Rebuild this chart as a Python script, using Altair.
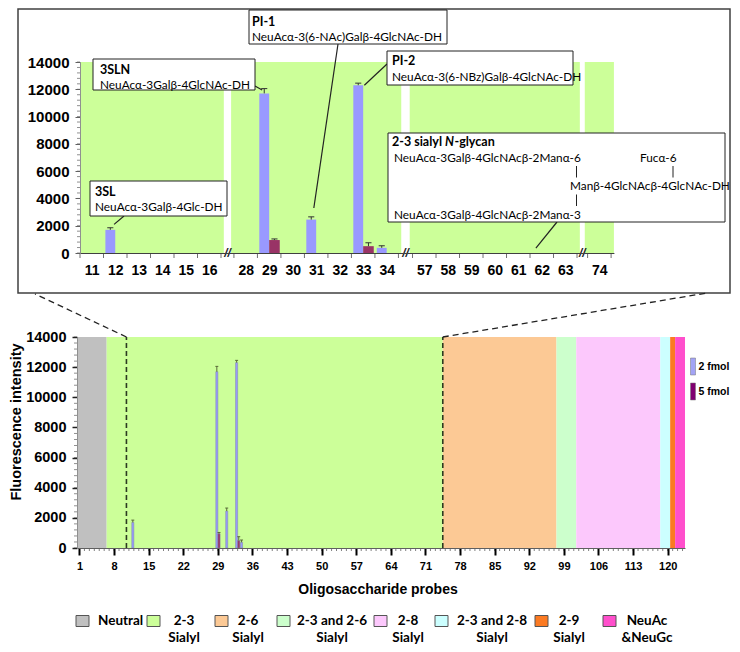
import altair as alt
import pandas as pd

# ---------------- values ----------------
top_segments = [[11, 12, 13, 14, 15, 16],
                [28, 29, 30, 31, 32, 33, 34],
                [57, 58, 59, 60, 61, 62, 63],
                [74]]

probes_2fmol = [12, 29, 31, 33, 34]
signal_2fmol = [1700, 11700, 2450, 12300, 380]
error_2fmol = [150, 350, 200, 150, 150]

probes_5fmol = [29, 33]
signal_5fmol = [950, 500]
error_5fmol = [80, 250]

series_names = ["2 fmol", "5 fmol"]
series_colors = ["#9999ff", "#993366"]
series_legend_colors = ["#a3a3f5", "#800070"]

class_names = ["Neutral", "2-3 Sialyl", "2-6 Sialyl", "2-3 and 2-6 Sialyl",
               "2-8 Sialyl", "2-3 and 2-8 Sialyl", "2-9 Sialyl", "NeuAc &NeuGc"]
class_first_probe = [1, 7, 75, 98, 102, 119, 121, 122]
class_last_probe = [6, 74, 97, 101, 118, 120, 121, 123]
class_colors = ["#c0c0c0", "#ccff99", "#fcc995", "#ccffcc", "#fcc8fc", "#ccffff", "#fb7a22", "#ff4fcc"]
legend_line1 = ["Neutral", "2-3", "2-6", "2-3 and 2-6", "2-8", "2-3 and 2-8", "2-9", "NeuAc"]
legend_line2 = ["", "Sialyl", "Sialyl", "Sialyl", "Sialyl", "Sialyl", "Sialyl", "&NeuGc"]

y_tick_values = [0, 2000, 4000, 6000, 8000, 10000, 12000, 14000]
bottom_tick_probes = [1, 8, 15, 22, 29, 36, 43, 50, 57, 64, 71, 78, 85, 92, 99, 106, 113, 120]
n_probes = 123
zoom_edges = [10.5, 74.5]

annot_titles = ["3SL", "3SLN", "PI-1", "PI-2"]
annot_structures = ["NeuAcα-3Galβ-4Glc-DH", "NeuAcα-3Galβ-4GlcNAc-DH",
                    "NeuAcα-3(6-NAc)Galβ-4GlcNAc-DH", "NeuAcα-3(6-NBz)Galβ-4GlcNAc-DH"]
annot_probes = [12, 29, 31, 33]
nglycan_probe = 62
nglycan_title = ["2-3 sialyl ", "N", "-glycan"]
nglycan_upper = "NeuAcα-3Galβ-4GlcNAcβ-2Manα-6"
nglycan_fuc = "Fucα-6"
nglycan_core = "Manβ-4GlcNAcβ-4GlcNAc-DH"
nglycan_lower = "NeuAcα-3Galβ-4GlcNAcβ-2Manα-3"

# ---------------- layout (page pixels -> chart pixels) ----------------
W, H = 724, 636


def px(v):
    return v - 8


AX_FONT = "Liberation Sans"
TXT_FONT = "Lato"
STRUCT_SIZE = 11.8
TITLE_SIZE = 12.5

BAND = 23.5
SEG_START = [0.0, 6.55, 14.15, 21.6]
SEG_PAD = 0.12
TOP_XMAX = SEG_START[-1] + len(top_segments[-1]) + SEG_PAD

top_x_scale = alt.Scale(domain=[0, TOP_XMAX], range=[px(80), px(80) + TOP_XMAX * BAND], zero=False, nice=False)
top_y_scale = alt.Scale(domain=[0, 14000], range=[px(253), px(62)], zero=False, nice=False)
bot_x_scale = alt.Scale(domain=[0.5, n_probes + 0.5], range=[px(77), px(685)], zero=False, nice=False)
bot_y_scale = alt.Scale(domain=[0, 14000], range=[px(548), px(337)], zero=False, nice=False)


def top_x_inv(page_x):
    return (page_x - 80) / BAND


def top_y_inv(page_y):
    return (253 - page_y) / (253 - 62) * 14000


def bot_x_inv(page_x):
    return 0.5 + (page_x - 77) / (608 / n_probes)


def bot_y_inv(page_y):
    return (548 - page_y) / (548 - 337) * 14000


def X(field, scale, axis=None):
    return alt.X(field, type="quantitative", scale=scale, axis=axis)


def Y(field, scale, axis=None):
    return alt.Y(field, type="quantitative", scale=scale, axis=axis)


def PX(field):
    return alt.X(field, type="quantitative", scale=None, axis=None)


def PY(field):
    return alt.Y(field, type="quantitative", scale=None, axis=None)


centers = {}
for s, seg in enumerate(top_segments):
    for j, p in enumerate(seg):
        centers[p] = SEG_START[s] + j + 0.5
top_label_pos = [round(centers[p], 3) for seg in top_segments for p in seg]
top_label_txt = [str(p) for seg in top_segments for p in seg]
label_expr = "[" + ",".join("'%s'" % t for t in top_label_txt) + "][indexof([" + \
    ",".join(repr(v) for v in top_label_pos) + "], datum.value)]"

one = pd.DataFrame({"k": [0]})
layers = []

# ---- frame around the zoomed panel ----
layers.append(alt.Chart(one).mark_rect(fill="white", stroke="#404040", strokeWidth=1.5).encode(
    x=alt.value(px(18)), x2=alt.value(px(730)), y=alt.value(px(9)), y2=alt.value(px(293))))

# ---- top: green segments ----
green = pd.DataFrame({
    "g0": [max(0.0, SEG_START[s] - SEG_PAD) for s in range(len(top_segments))],
    "g1": [SEG_START[s] + len(seg) + SEG_PAD for s, seg in enumerate(top_segments)],
    "lo": 0, "hi": 14000})
layers.append(alt.Chart(green).mark_rect(color=class_colors[1]).encode(
    x=X("g0", top_x_scale), x2="g1", y=Y("lo", top_y_scale), y2="hi"))

# ---- bar table ----
rows = []
for p, v, e in zip(probes_2fmol, signal_2fmol, error_2fmol):
    rows.append((series_names[0], p, v, e, -0.42, 0.0))
for p, v, e in zip(probes_5fmol, signal_5fmol, error_5fmol):
    rows.append((series_names[1], p, v, e, 0.0, 0.45))
bars = pd.DataFrame(rows, columns=["series", "probe", "value", "err", "o0", "o1"])
bars["top"] = bars["value"] + bars["err"]
bars["base"] = 0
bars["tc"] = bars["probe"].map(centers)
bars["tx0"] = bars["tc"] + bars["o0"]
bars["tx1"] = bars["tc"] + bars["o1"]
bars["tmid"] = (bars["tx0"] + bars["tx1"]) / 2
bars["tcap0"] = bars["tmid"] - 0.13
bars["tcap1"] = bars["tmid"] + 0.13
bars["bx0"] = bars["probe"] + bars["o0"]
bars["bx1"] = bars["probe"] + bars["o1"]
bars["bmid"] = (bars["bx0"] + bars["bx1"]) / 2
bars["bcap0"] = bars["bmid"] - 0.3
bars["bcap1"] = bars["bmid"] + 0.3

series_color = alt.Color("series:N", scale=alt.Scale(domain=series_names, range=series_colors), legend=None)

top_x_axis = alt.Axis(orient="bottom", offset=px(253) - H, values=top_label_pos, labelExpr=label_expr,
                      ticks=False, domainColor="#404040", domainWidth=1, grid=False, title=None,
                      labelFont=AX_FONT, labelFontWeight="bold", labelFontSize=14, labelColor="black",
                      labelPadding=10, labelOverlap=False, labelFlush=False, labelBound=False, zindex=1)
top_y_axis = alt.Axis(orient="left", offset=-px(80), values=y_tick_values, format="d", tickSize=5,
                      tickColor="#606060", domainColor="#909090", grid=False, title=None,
                      labelFont=AX_FONT, labelFontWeight="bold", labelFontSize=15, labelColor="black",
                      labelPadding=6, labelFlush=False, zindex=1)

layers.append(alt.Chart(bars).mark_rect().encode(
    x=X("tx0", top_x_scale, top_x_axis), x2="tx1",
    y=Y("value", top_y_scale, top_y_axis), y2="base", color=series_color))
layers.append(alt.Chart(bars).mark_rule(color="#333", strokeWidth=1).encode(
    x=X("tmid", top_x_scale), y=Y("value", top_y_scale), y2="top"))
layers.append(alt.Chart(bars).mark_rule(color="#333", strokeWidth=1).encode(
    x=X("tcap0", top_x_scale), x2="tcap1", y=Y("top", top_y_scale)))

# top: category boundary ticks and minor y ticks
tick_pos = [SEG_START[s] + j for s, seg in enumerate(top_segments) for j in range(len(seg) + 1)]
layers.append(alt.Chart(pd.DataFrame({"t": tick_pos})).mark_rule(color="#707070").encode(
    x=X("t", top_x_scale), y=alt.value(px(253)), y2=alt.value(px(258))))
minor_y = pd.DataFrame({"m": list(range(0, 14001, 400))})
layers.append(alt.Chart(minor_y).mark_rule(color="#909090").encode(
    y=Y("m", top_y_scale), x=alt.value(px(77)), x2=alt.value(px(80))))

# axis break marks
breaks = pd.DataFrame({"b": [(SEG_START[s] + len(top_segments[s]) + SEG_START[s + 1]) / 2
                             for s in range(len(top_segments) - 1)], "z": 0})
layers.append(alt.Chart(breaks).mark_text(text="//", font=AX_FONT, fontSize=12, fontWeight="bold",
                                          fontStyle="italic", baseline="middle", color="#222").encode(
    x=X("b", top_x_scale), y=Y("z", top_y_scale)))

# ---- annotations in the zoomed panel ----
box_px = [(90, 181, 227, 216), (93, 59, 255, 90), (249, 10, 447, 44), (387, 51, 573, 85)]
text_x_px = [95, 100, 252, 392]
title_y_px = [191.5, 69.5, 21.5, 61]
line_y_px = [206.5, 84.5, 37, 76.5]
box_end_px = [(124, 216), (255, 86), (338, 44), (387, 64)]
bar_end = [(-0.05, 2100), (-0.3, 11950), (-0.1, 3300), (0.05, 12300)]

conn = pd.DataFrame({
    "xa": [centers[p] + d[0] for p, d in zip(annot_probes, bar_end)] + [centers[nglycan_probe] - 0.25],
    "ya": [d[1] for d in bar_end] + [350],
    "xb": [top_x_inv(b[0]) for b in box_end_px] + [top_x_inv(557)],
    "yb": [top_y_inv(b[1]) for b in box_end_px] + [top_y_inv(222)]})
layers.append(alt.Chart(conn).mark_rule(color="#222", strokeWidth=1.2).encode(
    x=X("xa", top_x_scale), y=Y("ya", top_y_scale), x2="xb", y2="yb"))

boxes = pd.DataFrame({
    "x0": [px(b[0]) for b in box_px] + [px(388)], "y0": [px(b[1]) for b in box_px] + [px(133)],
    "x1": [px(b[2]) for b in box_px] + [px(725)], "y1": [px(b[3]) for b in box_px] + [px(222)]})
layers.append(alt.Chart(boxes).mark_rect(fill="white", stroke="#222", strokeWidth=1).encode(
    x=PX("x0"), x2="x1", y=PY("y0"), y2="y1"))

titles = pd.DataFrame({"x": [px(v) for v in text_x_px], "y": [px(v) for v in title_y_px], "t": annot_titles})
layers.append(alt.Chart(titles).mark_text(align="left", baseline="middle", font=TXT_FONT, fontSize=TITLE_SIZE,
                                          fontWeight="bold", color="black").encode(
    x=PX("x"), y=PY("y"), text="t:N"))
lines = pd.DataFrame({
    "x": [px(v) for v in text_x_px] + [px(394), px(640), px(570), px(394)],
    "y": [px(v) for v in line_y_px] + [px(158.3), px(158.3), px(186), px(215)],
    "t": annot_structures + [nglycan_upper, nglycan_fuc, nglycan_core, nglycan_lower]})
layers.append(alt.Chart(lines).mark_text(align="left", baseline="middle", font=TXT_FONT, fontSize=STRUCT_SIZE,
                                         color="black").encode(x=PX("x"), y=PY("y"), text="t:N"))
# glycosidic bonds drawn as short vertical strokes
bonds = pd.DataFrame({"x": [px(576.5), px(673), px(576.5)], "y0": [px(166), px(166), px(194.5)],
                      "y1": [px(177.5), px(177.5), px(206)]})
layers.append(alt.Chart(bonds).mark_rule(color="#222", strokeWidth=1).encode(
    x=PX("x"), y=PY("y0"), y2="y1"))
ng_title = pd.DataFrame({"x": [px(392), px(392) + 53, px(392) + 62.5], "y": px(141.7), "t": nglycan_title,
                         "it": ["normal", "italic", "normal"]})
layers.append(alt.Chart(ng_title[ng_title.it == "normal"]).mark_text(
    align="left", baseline="middle", font=TXT_FONT, fontSize=TITLE_SIZE, fontWeight="bold", color="black").encode(
    x=PX("x"), y=PY("y"), text="t:N"))
layers.append(alt.Chart(ng_title[ng_title.it == "italic"]).mark_text(
    align="left", baseline="middle", font=TXT_FONT, fontSize=TITLE_SIZE, fontWeight="bold", fontStyle="italic",
    color="black").encode(x=PX("x"), y=PY("y"), text="t:N"))

# ---- bottom panel ----
classes = pd.DataFrame({"name": class_names,
                        "c0": [f - 0.5 for f in class_first_probe],
                        "c1": [l + 0.5 for l in class_last_probe], "lo": 0, "hi": 14000})
class_fill = alt.Fill("name:N", scale=alt.Scale(domain=class_names, range=class_colors), legend=None)
layers.append(alt.Chart(classes).mark_rect().encode(
    x=X("c0", bot_x_scale), x2="c1", y=Y("lo", bot_y_scale), y2="hi", fill=class_fill))

bot_x_axis = alt.Axis(orient="bottom", offset=px(548) - H, values=bottom_tick_probes, format="d",
                      tickSize=7, tickWidth=2, tickColor="black", domainColor="#606060", grid=False,
                      title=None, labelFont=AX_FONT, labelFontWeight="bold", labelFontSize=11,
                      labelColor="black", labelPadding=5, labelFlush=False, labelOverlap=False, zindex=1)
bot_y_axis = alt.Axis(orient="left", offset=-px(77), values=y_tick_values, format="d", tickSize=5,
                      tickWidth=1.5, tickColor="#202020", domainColor="#909090", grid=False, title=None,
                      labelFont=AX_FONT, labelFontWeight="bold", labelFontSize=14.5, labelColor="black",
                      labelPadding=6, labelFlush=False, zindex=1)
layers.append(alt.Chart(bars).mark_rect(stroke="#7c86a8", strokeWidth=0.5).encode(
    x=X("bx0", bot_x_scale, bot_x_axis), x2="bx1",
    y=Y("value", bot_y_scale, bot_y_axis), y2="base", color=series_color))
layers.append(alt.Chart(bars).mark_rule(color="#5a6a3a", strokeWidth=1).encode(
    x=X("bmid", bot_x_scale), y=Y("value", bot_y_scale), y2="top"))
layers.append(alt.Chart(bars).mark_rule(color="#5a6a3a", strokeWidth=1).encode(
    x=X("bcap0", bot_x_scale), x2="bcap1", y=Y("top", bot_y_scale)))

minor_x = pd.DataFrame({"p": list(range(1, n_probes + 1))})
layers.append(alt.Chart(minor_x).mark_rule(color="#808080").encode(
    x=X("p", bot_x_scale), y=alt.value(px(548)), y2=alt.value(px(551))))
layers.append(alt.Chart(minor_y).mark_rule(color="#909090").encode(
    y=Y("m", bot_y_scale), x=alt.value(px(74)), x2=alt.value(px(77))))

zoom_df = pd.DataFrame({"z": zoom_edges, "lo": 0, "hi": 14000,
                        "xb": [bot_x_inv(35), bot_x_inv(707)], "yb": [bot_y_inv(294), bot_y_inv(293)]})
layers.append(alt.Chart(zoom_df).mark_rule(color="#2b3a20", strokeWidth=1.6, strokeDash=[5, 3]).encode(
    x=X("z", bot_x_scale), y=Y("lo", bot_y_scale), y2="hi"))
layers.append(alt.Chart(zoom_df).mark_rule(color="#222", strokeWidth=1.3, strokeDash=[6, 4]).encode(
    x=X("z", bot_x_scale), y=Y("hi", bot_y_scale), x2="xb", y2="yb"))

# axis titles
layers.append(alt.Chart(one).mark_text(text="Fluorescence intensity", angle=270, align="center",
                                       baseline="alphabetic", font=AX_FONT, fontSize=14.5,
                                       fontWeight="bold", color="black").encode(
    x=alt.value(px(21)), y=alt.value(px(422))))
layers.append(alt.Chart(one).mark_text(text="Oligosaccharide probes", align="center", baseline="middle",
                                       font=AX_FONT, fontSize=14, fontWeight="bold", color="black").encode(
    x=alt.value(px(378)), y=alt.value(px(590))))

# ---- series legend (right) ----
sleg = pd.DataFrame({"name": series_names, "y0": [px(358), px(383)], "y1": [px(375), px(400)],
                     "ty": [px(366.5), px(391.5)]})
layers.append(alt.Chart(sleg).mark_rect(stroke="#777", strokeWidth=0.5).encode(
    x=alt.value(px(690.5)), x2=alt.value(px(695.5)), y=PY("y0"), y2="y1",
    fill=alt.Fill("name:N", scale=alt.Scale(domain=series_names, range=series_legend_colors), legend=None)))
layers.append(alt.Chart(sleg).mark_text(align="left", baseline="middle", font=AX_FONT, fontSize=10.5,
                                        fontWeight="bold", color="black").encode(
    x=alt.value(px(698.5)), y=PY("ty"), text="name:N"))

# ---- class legend (bottom) ----
swatch_x = [76, 147, 215, 277, 374, 435, 535, 603]
label_cx = [98, 184, 248, 332, 408, 492, 569, 647]
cleg = pd.DataFrame({"name": class_names, "s0": [px(v) for v in swatch_x], "s1": [px(v + 13) for v in swatch_x],
                     "cx": [px(v) for v in label_cx], "l1": legend_line1, "l2": legend_line2,
                     "y0": px(615.5), "y1": px(626.5), "t1": px(621), "t2": px(637.5)})
layers.append(alt.Chart(cleg).mark_rect(stroke="#555", strokeWidth=1).encode(
    x=PX("s0"), x2="s1", y=PY("y0"), y2="y1", fill=class_fill))
layers.append(alt.Chart(cleg.iloc[:1]).mark_text(align="left", baseline="middle", font=TXT_FONT,
                                                 fontSize=13.5, fontWeight="bold", color="black").encode(
    x=PX("cx"), y=PY("t1"), text="l1:N"))
layers.append(alt.Chart(cleg.iloc[1:]).mark_text(align="center", baseline="middle", font=TXT_FONT,
                                                 fontSize=13.5, fontWeight="bold", color="black").encode(
    x=PX("cx"), y=PY("t1"), text="l1:N"))
layers.append(alt.Chart(cleg.iloc[1:]).mark_text(align="center", baseline="middle", font=TXT_FONT,
                                                 fontSize=13.5, fontWeight="bold", color="black").encode(
    x=PX("cx"), y=PY("t2"), text="l2:N"))

chart = alt.layer(*layers).resolve_scale(x="independent", y="independent", fill="independent").properties(
    width=W, height=H, autosize=alt.AutoSizeParams(type="none"), padding=0
).configure_view(stroke=None)

chart.save("out.html", embed_options={"renderer": "svg", "actions": False})
